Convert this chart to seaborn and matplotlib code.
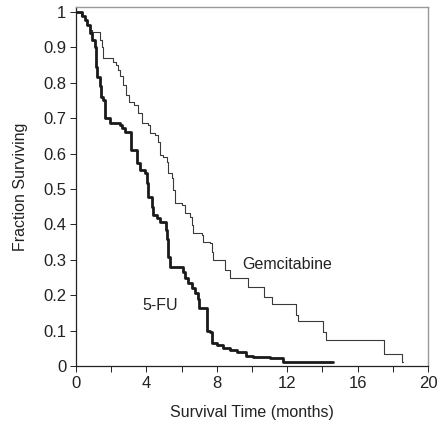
import matplotlib
matplotlib.use("Agg")
import matplotlib.pyplot as plt
import seaborn as sns
import pandas as pd

# Kaplan-Meier steps: (months, fraction surviving after the step)
gem_time = [0, 0.3, 0.5, 0.65, 0.8, 0.91, 1.36, 1.48, 1.53, 2.1, 2.27, 2.38, 2.5, 2.67,
            2.84, 3.0, 3.3, 3.5, 3.75, 4.09, 4.2, 4.5, 4.66, 4.77, 4.94, 5.17, 5.23,
            5.45, 5.5, 5.63, 6.02, 6.2, 6.48, 6.59, 6.65, 7.16, 7.22, 7.61, 7.73, 7.78,
            8.47, 8.75, 9.75, 10.68, 11.14, 12.5, 12.6, 14.03, 14.2, 17.5, 18.52, 18.55]
gem_surv = [1.0, 0.99, 0.977, 0.963, 0.95, 0.943, 0.92, 0.9, 0.87, 0.858, 0.85, 0.835,
            0.82, 0.793, 0.765, 0.745, 0.737, 0.714, 0.686, 0.68, 0.658, 0.652, 0.633,
            0.596, 0.59, 0.576, 0.545, 0.53, 0.497, 0.46, 0.454, 0.432, 0.42, 0.398,
            0.375, 0.37, 0.35, 0.347, 0.322, 0.30, 0.27, 0.248, 0.223, 0.195, 0.175,
            0.144, 0.127, 0.096, 0.073, 0.034, 0.012, 0.012]

fu_time = [0, 0.34, 0.51, 0.63, 0.8, 0.91, 1.08, 1.14, 1.19, 1.36, 1.42, 1.53, 1.65,
           1.93, 2.5, 2.61, 2.78, 3.13, 3.47, 3.64, 3.92, 4.03, 4.09, 4.32, 4.38, 4.6,
           4.77, 5.11, 5.17, 5.23, 5.34, 6.08, 6.19, 6.36, 6.59, 6.76, 6.93, 6.99, 7.44,
           7.47, 7.61, 7.73, 8.0, 8.35, 8.75, 9.15, 9.66, 10.06, 11.0, 11.76, 14.6]
fu_surv = [1.0, 0.99, 0.977, 0.963, 0.94, 0.92, 0.9, 0.845, 0.816, 0.79, 0.76, 0.75,
           0.70, 0.686, 0.68, 0.672, 0.66, 0.61, 0.573, 0.554, 0.545, 0.517, 0.478,
           0.45, 0.427, 0.418, 0.407, 0.384, 0.36, 0.308, 0.28, 0.265, 0.25, 0.234,
           0.22, 0.206, 0.19, 0.164, 0.138, 0.10, 0.096, 0.065, 0.06, 0.05, 0.045, 0.04,
           0.028, 0.025, 0.022, 0.012, 0.012]

x_ticks = [0, 2, 4, 6, 8, 10, 12, 14, 16, 18, 20]
x_labels = ["0", "", "4", "", "8", "", "12", "", "16", "", "20"]
y_ticks = [0, 0.1, 0.2, 0.3, 0.4, 0.5, 0.6, 0.7, 0.8, 0.9, 1.0]
y_labels = ["0", "0.1", "0.2", "0.3", "0.4", "0.5", "0.6", "0.7", "0.8", "0.9", "1"]

sns.set_style("ticks")
plt.rcParams['font.family'] = ['Liberation Sans Narrow', 'Liberation Sans', 'DejaVu Sans']

gem = pd.DataFrame({'time': gem_time, 'surv': gem_surv})
fu = pd.DataFrame({'time': fu_time, 'surv': fu_surv})

fig = plt.figure(figsize=(4.43, 4.26), dpi=100)
ax = fig.add_axes([0.1716, 0.1408, 0.7946, 0.8427])

sns.lineplot(data=gem, x='time', y='surv', drawstyle='steps-post', estimator=None,
             color='#3a3a3a', linewidth=0.8, ax=ax)
sns.lineplot(data=fu, x='time', y='surv', drawstyle='steps-post', estimator=None,
             color='#1a1a1a', linewidth=2.0, ax=ax)

ax.set_xlim(0, 20)
ax.set_ylim(0, 1.014)
ax.set_xticks(x_ticks)
ax.set_xticklabels(x_labels)
ax.set_yticks(y_ticks)
ax.set_yticklabels(y_labels)
ax.tick_params(labelsize=12, length=4, width=0.7, colors='#222222', pad=3)

for side in ['top', 'right']:
    ax.spines[side].set_color('#999999')
    ax.spines[side].set_linewidth(1.0)
for side in ['left', 'bottom']:
    ax.spines[side].set_color('#222222')
    ax.spines[side].set_linewidth(0.9)

ax.set_xlabel('Survival Time (months)', fontsize=11.5, color='#222222', labelpad=10)
ax.set_ylabel('Fraction Surviving', fontsize=11.5, color='#222222', labelpad=11)

ax.text(12.0, 0.288, 'Gemcitabine', fontsize=11.5, ha='center', va='center', color='#222222')
ax.text(4.77, 0.172, '5-FU', fontsize=11.5, ha='center', va='center', color='#222222')

fig.savefig('out.png', dpi=100)
